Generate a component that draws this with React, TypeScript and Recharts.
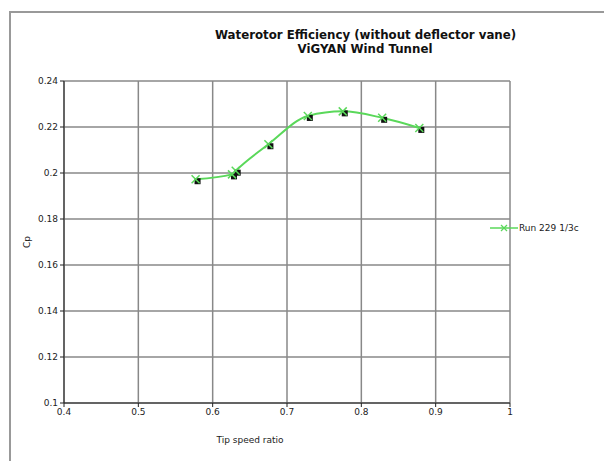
import { LineChart, Line, XAxis, YAxis, CartesianGrid, Label } from 'recharts';

const tsr = [0.577, 0.626, 0.631, 0.675, 0.728, 0.775, 0.828, 0.878];
const cp = [0.1973, 0.1994, 0.201, 0.2125, 0.2248, 0.2268, 0.224, 0.2196];
const xTicks = [0.4, 0.5, 0.6, 0.7, 0.8, 0.9, 1];
const yTicks = [0.1, 0.12, 0.14, 0.16, 0.18, 0.2, 0.22, 0.24];

const seriesName = 'Run 229 1/3c';
const data = tsr.map((t, i) => ({ tsr: t, cp: cp[i] }));

const GREEN = '#5ad85a';
const FONT = '"DejaVu Sans", Verdana, sans-serif';

const fmt = (v: number) => String(Number(v.toFixed(2)));

// black square offset behind a green cross, as in the original
function Marker(props: any) {
  const { cx, cy, index } = props;
  if (cx == null || cy == null) return null;
  return (
    <g key={`m-${index}`}>
      <rect x={cx - 1} y={cy - 1} width={6} height={6} fill="#111" />
      <line x1={cx - 4} y1={cy - 4} x2={cx + 4} y2={cy + 4} stroke={GREEN} strokeWidth={1.5} />
      <line x1={cx - 4} y1={cy + 4} x2={cx + 4} y2={cy - 4} stroke={GREEN} strokeWidth={1.5} />
    </g>
  );
}

function LegendBox() {
  return (
    <div
      style={{
        position: 'absolute',
        left: 482,
        top: 215,
        display: 'flex',
        alignItems: 'center',
        fontFamily: FONT,
        fontSize: 9,
        color: '#222',
        whiteSpace: 'nowrap',
      }}
    >
      <svg width={28} height={10}>
        <line x1={0} y1={5} x2={28} y2={5} stroke={GREEN} strokeWidth={1.5} />
        <line x1={11} y1={2} x2={17} y2={8} stroke={GREEN} strokeWidth={1.2} />
        <line x1={11} y1={8} x2={17} y2={2} stroke={GREEN} strokeWidth={1.2} />
      </svg>
      <span style={{ marginLeft: 1 }}>{seriesName}</span>
    </div>
  );
}

export default function App() {
  return (
    <div style={{ position: 'relative', width: 604, height: 453 }}>
      <div
        style={{
          position: 'absolute',
          left: 1,
          top: 3,
          width: 603,
          height: 450,
          borderLeft: '2px solid #999',
          borderTop: '2px solid #999',
          boxSizing: 'border-box',
        }}
      />
      <div
        style={{
          position: 'absolute',
          left: 207,
          top: 20,
          width: 300,
          textAlign: 'center',
          fontFamily: FONT,
          fontWeight: 'bold',
          fontSize: 11.8,
          lineHeight: '14px',
          color: '#111',
          whiteSpace: 'nowrap',
        }}
      >
        Waterotor Efficiency (without deflector vane)
        <br />
        ViGYAN Wind Tunnel
      </div>
      <LineChart
        width={604}
        height={453}
        data={data}
        margin={{ top: 73, right: 102, bottom: 28, left: 0 }}
        style={{ position: 'absolute', left: 0, top: 0 }}
      >
        <CartesianGrid stroke="#888" strokeWidth={1.5} />
        <XAxis
          dataKey="tsr"
          type="number"
          domain={[0.4, 1]}
          ticks={xTicks}
          tickFormatter={fmt}
          stroke="#222"
          tickSize={4}
          tick={{ fontSize: 9, fill: '#222', fontFamily: FONT }}
          height={30}
        >
          <Label
            content={({ viewBox }: any) => (
              <text
                x={viewBox.x + viewBox.width / 2 - 37}
                y={viewBox.y + 40}
                textAnchor="middle"
                fontSize={9}
                fontFamily={FONT}
                fill="#222"
              >
                Tip speed ratio
              </text>
            )}
          />
        </XAxis>
        <YAxis
          dataKey="cp"
          type="number"
          domain={[0.1, 0.24]}
          ticks={yTicks}
          tickFormatter={fmt}
          stroke="#222"
          tickSize={4}
          tick={{ fontSize: 9, fill: '#222', fontFamily: FONT }}
          width={56}
        >
          <Label
            content={({ viewBox }: any) => {
              const x = viewBox.x + 22;
              const y = viewBox.y + viewBox.height / 2;
              return (
                <text
                  x={x}
                  y={y}
                  transform={`rotate(-90 ${x} ${y})`}
                  textAnchor="middle"
                  fontSize={9}
                  fontFamily={FONT}
                  fill="#222"
                >
                  Cp
                </text>
              );
            }}
          />
        </YAxis>
        <Line
          type="monotone"
          dataKey="cp"
          name={seriesName}
          stroke={GREEN}
          strokeWidth={2}
          dot={<Marker />}
          activeDot={false}
          isAnimationActive={false}
        />
      </LineChart>
      <LegendBox />
    </div>
  );
}
